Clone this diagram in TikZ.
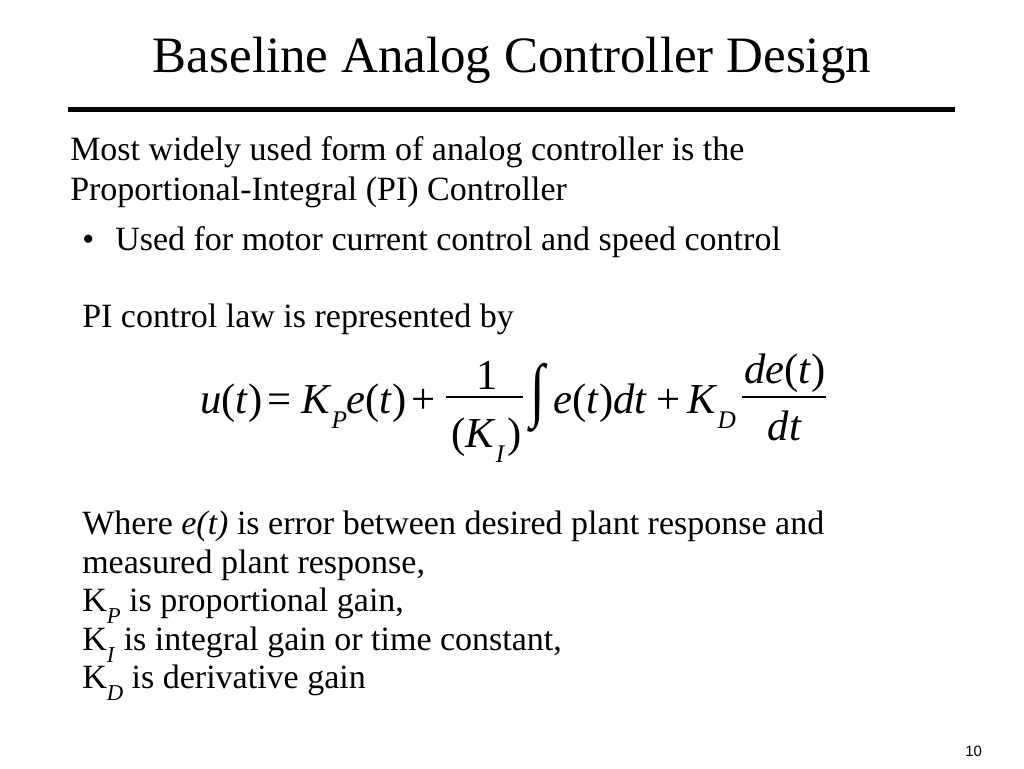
\documentclass[tikz,border=0pt]{standalone}
\usepackage{graphicx}
\usepackage{fontspec}
\setmainfont{Liberation Serif}
\newfontfamily\pagenumfont{Liberation Sans}
\newcommand\ei[1]{\textit{#1}}
\newcommand\tsub[1]{\raisebox{-0.36em}{\fontsize{17}{17}\selectfont\textit{#1}}}
\newcommand\esub[1]{\raisebox{-0.36em}{\fontsize{19}{19}\selectfont\textit{#1}}}
\begin{document}
\begin{tikzpicture}[x=0.75pt,y=-0.75pt,
  txt/.style={inner sep=0pt,anchor=base west,font=\fontsize{25.5}{30}\selectfont},
  titletxt/.style={inner sep=0pt,anchor=base,font=\fontsize{38.25}{44}\selectfont},
  eqw/.style={inner sep=0pt,anchor=base west,font=\fontsize{32}{38}\selectfont},
  eqc/.style={inner sep=0pt,anchor=base,font=\fontsize{32}{38}\selectfont},
  fracbar/.style={line width=1.5pt},
  pagetxt/.style={inner sep=0pt,anchor=base west,font=\pagenumfont\fontsize{11.25}{13}\selectfont}]
\useasboundingbox[fill=white] (0,0) rectangle (1024,768);
% title and rule
\node[titletxt] (title) at (512,72) {Baseline Analog Controller Design};
\draw[line width=3.75pt] (68,109.5) -- (955,109.5);
% body text
\node[txt] (l1) at (70,160) {Most widely used form of analog controller is the};
\node[txt] (l2) at (70,200) {Proportional-Integral (PI) Controller};
\node[txt] (bul) at (82,250) {•};
\node[txt] (l3) at (115,250) {Used for motor current control and speed control};
\node[txt] (l4) at (82,327) {PI control law is represented by};
% equation
\node[eqw] (eu) at (200,413) {\ei{u}(\ei{t})};
\node[eqw] (eeq) at (267,413) {=};
\node[eqw] (ekp) at (301,413) {\ei{K}\esub{P}};
\node[eqw] (eet) at (346,413) {\ei{e}(\ei{t})};
\node[eqw] (eplus1) at (411,413) {+};
\draw[fracbar] (446,397) -- (523,397);
\node[eqc] (enum1) at (487,389) {1};
\node[eqw] (eden1) at (451,447) {(\ei{K}\esub{I}\hspace{2pt})};
\node[inner sep=0pt,anchor=center,font=\fontsize{32}{38}\selectfont] (eint) at (538,398) {\scalebox{1.25}[1.65]{∫}};
\node[eqw] (eetdt) at (553,413) {\ei{e}(\ei{t})\ei{dt}};
\node[eqw] (eplus2) at (656,413) {+};
\node[eqw] (ekd) at (687,413) {\ei{K}\esub{D}};
\draw[fracbar] (742,397) -- (826,397);
\node[eqc] (enum2) at (785,383) {\ei{de}(\ei{t})};
\node[eqc] (eden2) at (785,440) {\ei{dt}};
% explanation
\node[txt] (w1) at (82,534) {Where \ei{e(t)} is error between desired plant response and};
\node[txt] (w2) at (82,573) {measured plant response,};
\node[txt] (w3) at (82,611) {K\tsub{P} is proportional gain,};
\node[txt] (w4) at (82,650) {K\tsub{I} is integral gain or time constant,};
\node[txt] (w5) at (82,688) {K\tsub{D} is derivative gain};
\node[pagetxt] (pg) at (965,756) {10};
\end{tikzpicture}
\end{document}
